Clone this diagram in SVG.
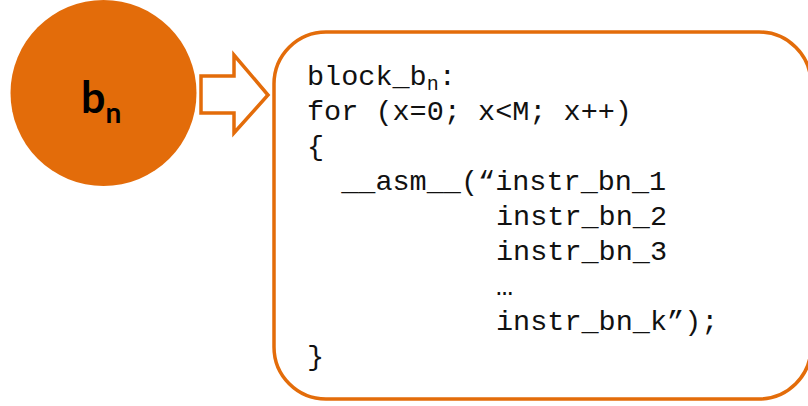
<svg xmlns="http://www.w3.org/2000/svg" width="808" height="406" viewBox="0 0 808 406">
<style>
.code{font-family:"Liberation Mono","Courier New",monospace;font-size:28.5px;fill:#111}
.sub{font-size:20px}
.lbl{font-family:Lato,"Open Sans",sans-serif;font-weight:bold;fill:#000}
</style>
<rect width="808" height="406" fill="#fff"/>
<g id="node-bn">
<circle cx="103.5" cy="93" r="93" fill="#E36C0A"/>
<text class="lbl" x="81" y="113" font-size="43">b<tspan font-size="28" dy="10">n</tspan></text>
</g>
<g id="connectors">
<path d="M201,76 H234 V55 L268,95 L234,133 V113 H201 Z" fill="#fff" stroke="#E36C0A" stroke-width="3.5" stroke-linejoin="miter"/>
</g>
<g id="node-code">
<rect x="274" y="32" width="537" height="367" rx="52" ry="52" fill="#fff" stroke="#E36C0A" stroke-width="3.5"/>
<text class="code" x="307" y="85">block_b<tspan class="sub" dy="5">n</tspan><tspan dy="-5">:</tspan></text>
<text class="code" x="307" y="120">for (x=0; x&lt;M; x++)</text>
<text class="code" x="307" y="155">{</text>
<text class="code" x="307" y="190" xml:space="preserve">  __asm__(“instr_bn_1</text>
<text class="code" x="496" y="225">instr_bn_2</text>
<text class="code" x="496" y="260">instr_bn_3</text>
<text class="code" x="496" y="295">…</text>
<text class="code" x="496" y="330">instr_bn_k”);</text>
<text class="code" x="307" y="365">}</text>
</g>
</svg>
